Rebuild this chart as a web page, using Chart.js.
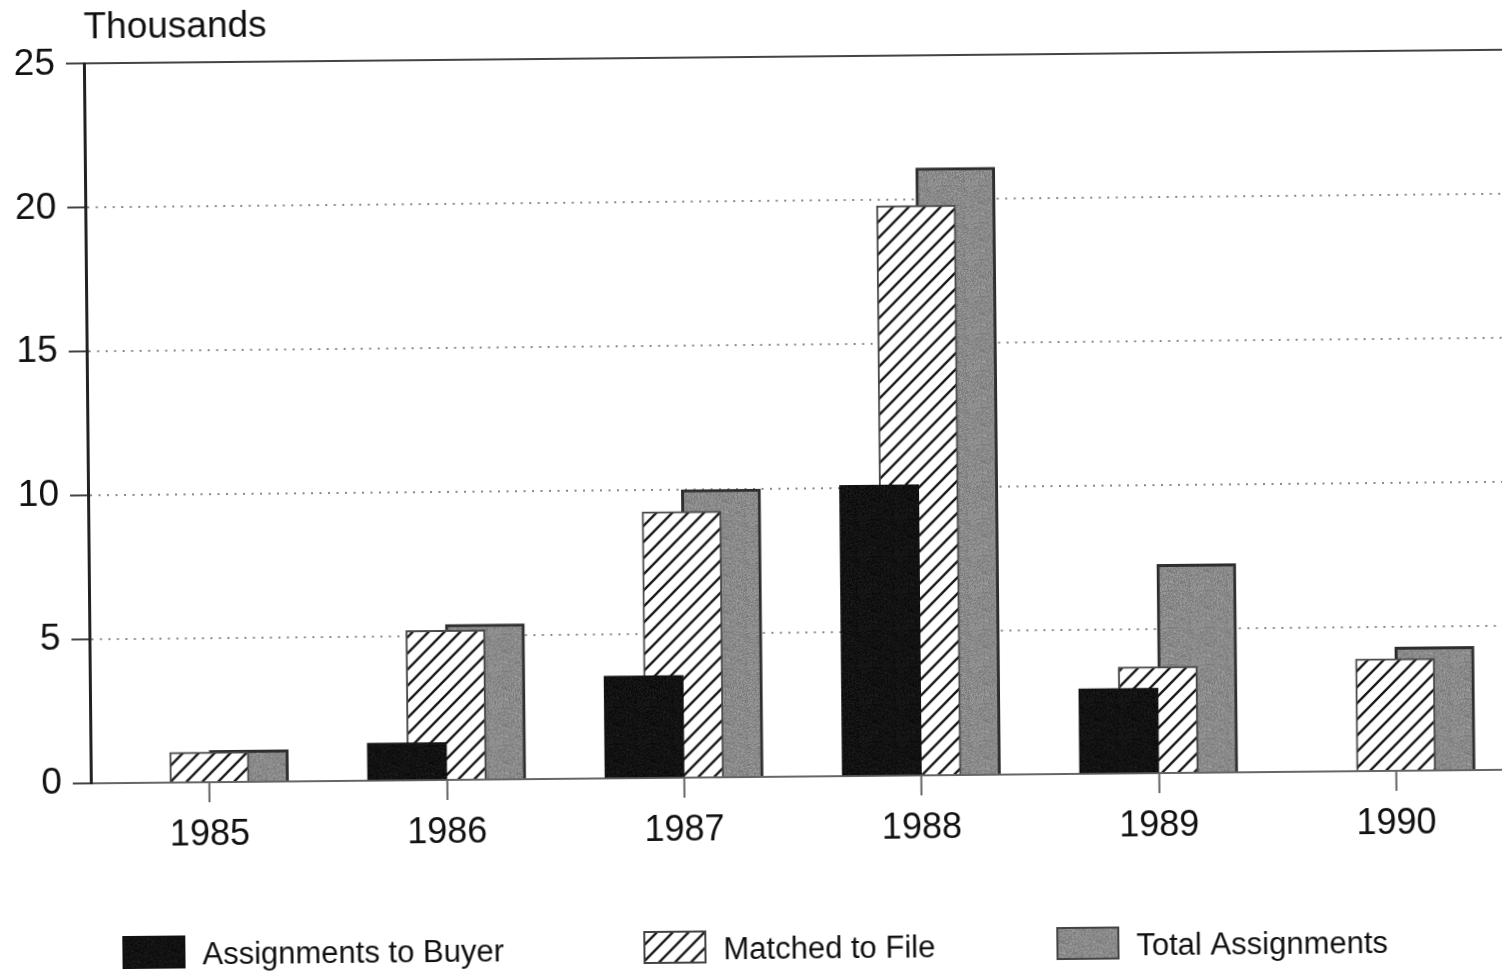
<!DOCTYPE html>
<html>
<head>
<meta charset="utf-8">
<script src="https://cdn.jsdelivr.net/npm/chart.js@4.4.0/dist/chart.umd.min.js"></script>
<style>
  html, body { margin: 0; padding: 0; background: #fff; overflow: hidden; width: 1502px; height: 974px; }
  /* the scanned original sits slightly tilted, and its last group runs off the right edge */
  #wrap { width: 1512px; height: 974px; transform: rotate(-0.55deg); transform-origin: 751px 487px; }
</style>
</head>
<body>
<div id="wrap"><canvas id="myChart" width="1512" height="974"></canvas></div>
<script>
const years = ["1985", "1986", "1987", "1988", "1989", "1990"];
const toBuyer = [null, 1.3, 3.55, 10.1, 2.95, null];
const matched = [1.05, 5.2, 9.25, 19.8, 3.7, 3.9];
const total = [1.1, 5.4, 10.0, 21.1, 7.25, 4.3];
const seriesNames = ["Assignments to Buyer", "Matched to File", "Total Assignments"];

const FONT = "'Liberation Sans', Arial, sans-serif";

// hatch pattern for "Matched to File"
function makeHatch() {
  const s = 16;
  const c = document.createElement("canvas");
  c.width = s;
  c.height = s;
  const g = c.getContext("2d");
  g.fillStyle = "#fff";
  g.fillRect(0, 0, s, s);
  g.strokeStyle = "#1a1a1a";
  g.lineWidth = 2.4;
  g.beginPath();
  g.moveTo(-s, 2 * s); g.lineTo(2 * s, -s);
  g.moveTo(-s, s); g.lineTo(s, -s);
  g.moveTo(0, 2 * s); g.lineTo(2 * s, 0);
  g.stroke();
  return g.createPattern(c, "repeat");
}

// grainy fill, like the printed screen in the scan (fixed hash, no randomness)
function makeGrain(base, spread) {
  const s = 37;
  const c = document.createElement("canvas");
  c.width = s;
  c.height = s;
  const g = c.getContext("2d");
  const img = g.createImageData(s, s);
  for (let y = 0; y < s; y++) {
    for (let x = 0; x < s; x++) {
      const hsh = ((x * 73856093) ^ (y * 19349663)) >>> 0;
      const v = Math.max(0, Math.min(255, base + ((hsh % 997) / 997 - 0.5) * spread));
      const k = (y * s + x) * 4;
      img.data[k] = v;
      img.data[k + 1] = v;
      img.data[k + 2] = v;
      img.data[k + 3] = 255;
    }
  }
  g.putImageData(img, 0, 0);
  return g.createPattern(c, "repeat");
}

const hatch = makeHatch();
const grayFill = makeGrain(138, 40);
const blackFill = makeGrain(18, 22);

// legend drawn under the chart
const legendRow = {
  id: "legendRow",
  afterDraw(chart) {
    const ctx = chart.ctx;
    const boxX = [118, 639, 1052];
    const top = 930;
    chart.data.datasets.forEach(function (ds, i) {
      const x = boxX[i];
      ctx.save();
      ctx.fillStyle = ds.backgroundColor;
      ctx.fillRect(x, top, 63, 33);
      ctx.lineWidth = 2;
      ctx.strokeStyle = i === 0 ? "#111" : "#444";
      ctx.strokeRect(x + 1, top + 1, 61, 31);
      ctx.fillStyle = "#111";
      ctx.font = "31px " + FONT;
      ctx.textBaseline = "middle";
      ctx.fillText(ds.label, x + 80, top + 20);
      ctx.restore();
    });
  }
};

const data = {
  labels: years,
  datasets: [
    {
      label: seriesNames[0],
      data: toBuyer,
      backgroundColor: blackFill,
      borderWidth: 0,
    },
    {
      label: seriesNames[1],
      data: matched,
      backgroundColor: hatch,
      borderColor: "#4a4a4a",
      borderWidth: 2,
    },
    {
      label: seriesNames[2],
      data: total,
      backgroundColor: grayFill,
      borderColor: "#2e2e2e",
      borderWidth: 3,
    },
  ],
};

const config = {
  type: "bar",
  data: data,
  options: {
    responsive: false,
    animation: false,
    devicePixelRatio: 1,
    categoryPercentage: 0.5,
    barPercentage: 2.0,
    layout: { padding: { left: 0, right: 0, top: 0, bottom: 117 } },
    plugins: {
      legend: { display: false },
      tooltip: { enabled: false },
      title: {
        display: true,
        text: "Thousands",
        align: "start",
        fullSize: false,
        color: "#111",
        font: { family: FONT, size: 37, weight: "normal" },
        padding: { top: 0, bottom: 13 },
      },
    },
    scales: {
      x: {
        grid: {
          offset: false,
          drawOnChartArea: false,
          tickLength: 20,
          tickColor: "#666",
          tickWidth: 2,
        },
        border: { color: "#666", width: 2 },
        ticks: {
          color: "#111",
          padding: 11,
          font: { family: FONT, size: 36 },
        },
        afterFit: function (scale) {
          scale.height = 80;
        },
      },
      top: {
        type: "category",
        position: "top",
        grid: { display: false },
        ticks: { display: false },
        border: { color: "#444", width: 2 },
        afterFit: function (scale) {
          scale.height = 0;
        },
      },
      y: {
        min: 0,
        max: 25,
        ticks: {
          stepSize: 5,
          color: "#111",
          padding: 11,
          font: { family: FONT, size: 37 },
        },
        grid: {
          color: "#888",
          lineWidth: 2,
          tickLength: 18,
          tickColor: "#444",
          tickWidth: 2,
        },
        border: { color: "#222", width: 3, dash: [2, 6.5] },
        afterFit: function (scale) {
          scale.width = 88;
        },
      },
    },
  },
  plugins: [legendRow],
};

var myChart = new Chart(document.getElementById("myChart"), config);
</script>
</body>
</html>
